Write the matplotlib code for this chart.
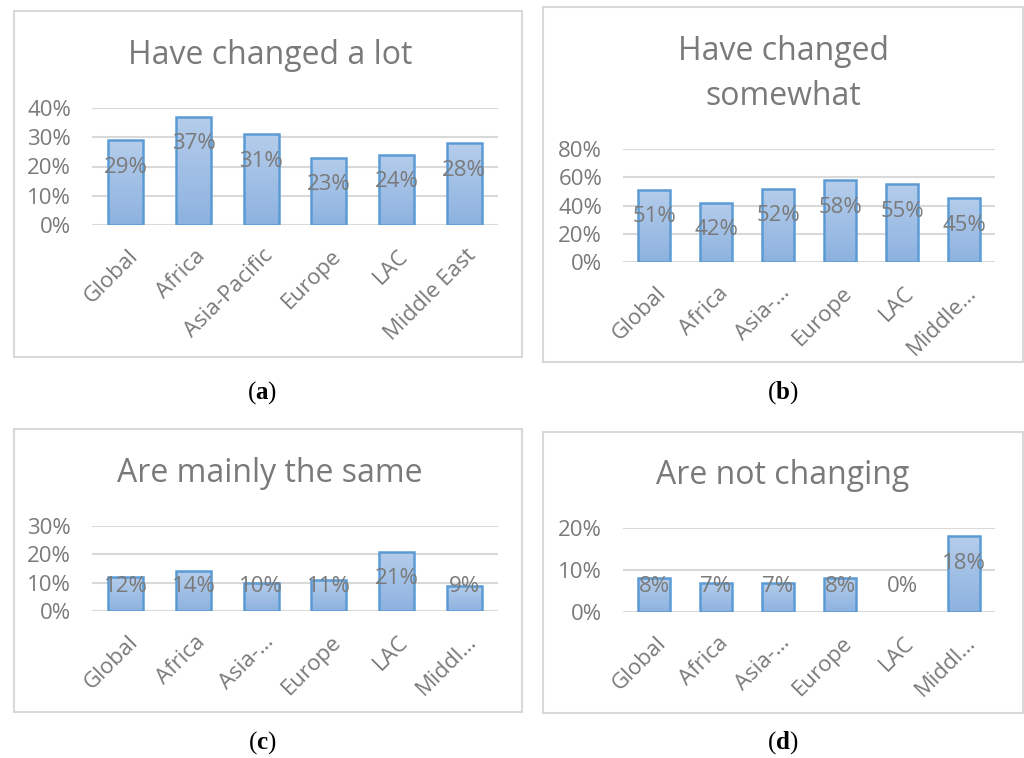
import numpy as np
import matplotlib.pyplot as plt
import matplotlib.transforms as mtransforms
from matplotlib.patches import Rectangle
from matplotlib.colors import LinearSegmentedColormap
from matplotlib.ticker import PercentFormatter

plt.rcParams['font.family'] = ['Open Sans', 'DejaVu Sans']
plt.rcParams['mathtext.fontset'] = 'custom'
plt.rcParams['mathtext.bf'] = 'Liberation Serif:bold'
plt.rcParams['mathtext.rm'] = 'Liberation Serif'

# data (percent)
categories = ['Global', 'Africa', 'Asia-Pacific', 'Europe', 'LAC', 'Middle East']
short_b = ['Global', 'Africa', 'Asia-\u2026', 'Europe', 'LAC', 'Middle\u2026']
short_cd = ['Global', 'Africa', 'Asia-\u2026', 'Europe', 'LAC', 'Middl\u2026']
changed_lot = [29, 37, 31, 23, 24, 28]
changed_somewhat = [51, 42, 52, 58, 55, 45]
mainly_same = [12, 14, 10, 11, 21, 9]
not_changing = [8, 7, 7, 8, 0, 18]

W, H = 1024, 758
DPI = 100
TXT = '#7a7a7a'
GRID = '#d9d9d9'
EDGE = '#5b9bd5'
grad = LinearSegmentedColormap.from_list('g', ['#8db2e0', '#b5cdeb'])

fig = plt.figure(figsize=(W / DPI, H / DPI), dpi=DPI)


def px(x0, y0, x1, y1):
    # pixel box (top-left origin) -> figure fraction rect
    return [x0 / W, 1 - y1 / H, (x1 - x0) / W, (y1 - y0) / H]


def panel(box, border, title, title_xy, vals, labels, ymax, step, cap, cap_xy):
    bx0, by0, bx1, by1 = border
    fig.patches.append(Rectangle((bx0 / W, 1 - by1 / H), (bx1 - bx0) / W, (by1 - by0) / H,
                                 transform=fig.transFigure, fill=False,
                                 edgecolor=GRID, lw=1.5))
    fig.text(title_xy[0] / W, 1 - title_xy[1] / H, title, ha='center', va='center',
             fontsize=23, color=TXT, linespacing=1.45)
    fig.text(cap_xy[0] / W, 1 - cap_xy[1] / H, r'($\mathbf{' + cap + r'}$)',
             ha='center', va='center', fontsize=18, color='black',
             family='Liberation Serif')

    ax = fig.add_axes(px(*box))
    x = np.arange(len(vals))
    bars = ax.bar(x, vals, width=0.52, facecolor='none', edgecolor=EDGE, lw=1.8, zorder=3)
    g = np.linspace(0, 1, 100).reshape(-1, 1)
    for b in bars:
        if b.get_height() <= 0:
            b.set_linewidth(0)
            continue
        im = ax.imshow(g, extent=[b.get_x(), b.get_x() + b.get_width(), 0, b.get_height()],
                       origin='lower', aspect='auto', cmap=grad, zorder=2)
        im.set_clip_path(b)

    ax.set_xlim(-0.5, len(vals) - 0.5)
    ax.set_ylim(0, ymax)
    ax.set_yticks(np.arange(0, ymax + 0.1, step))
    ax.yaxis.set_major_formatter(PercentFormatter(decimals=0))
    ax.grid(axis='y', color=GRID, lw=1.5, zorder=0)
    ax.set_axisbelow(True)
    for s in ax.spines.values():
        s.set_visible(False)
    ax.tick_params(axis='y', length=0, pad=15, labelsize=16, labelcolor=TXT)
    ax.tick_params(axis='x', length=0, pad=20, labelsize=16, labelcolor=TXT)
    ax.set_xticks(x)
    ax.set_xticklabels(labels, rotation=45, ha='right', va='center', rotation_mode='anchor')
    shift = mtransforms.ScaledTranslation(9 / DPI, 0, fig.dpi_scale_trans)
    for lab in ax.get_xticklabels():
        lab.set_transform(lab.get_transform() + shift)

    # data labels: ~27 px below bar top, kept ~25 px above the baseline
    ppu = (box[3] - box[1]) / ymax
    for xi, v in zip(x, vals):
        y = max(v - 27 / ppu, 25 / ppu)
        ax.text(xi, y, f'{v}%', ha='center', va='center', fontsize=16, color=TXT, zorder=4)
    return ax


panel((92, 108, 498, 225), (14, 11, 522, 357), 'Have changed a lot', (270, 55),
      changed_lot, categories, 40, 10, 'a', (262, 393))
panel((623, 149, 995, 262), (543, 7, 1023, 362), 'Have changed\nsomewhat', (783, 74),
      changed_somewhat, short_b, 80, 20, 'b', (783, 393))
panel((92, 526, 498, 611), (14, 429, 522, 712), 'Are mainly the same', (270, 473),
      mainly_same, short_cd, 30, 10, 'c', (262, 743))
panel((623, 528, 995, 612), (543, 432, 1023, 713), 'Are not changing', (783, 475),
      not_changing, short_cd, 20, 10, 'd', (783, 743))

fig.savefig('out.png', dpi=DPI)
